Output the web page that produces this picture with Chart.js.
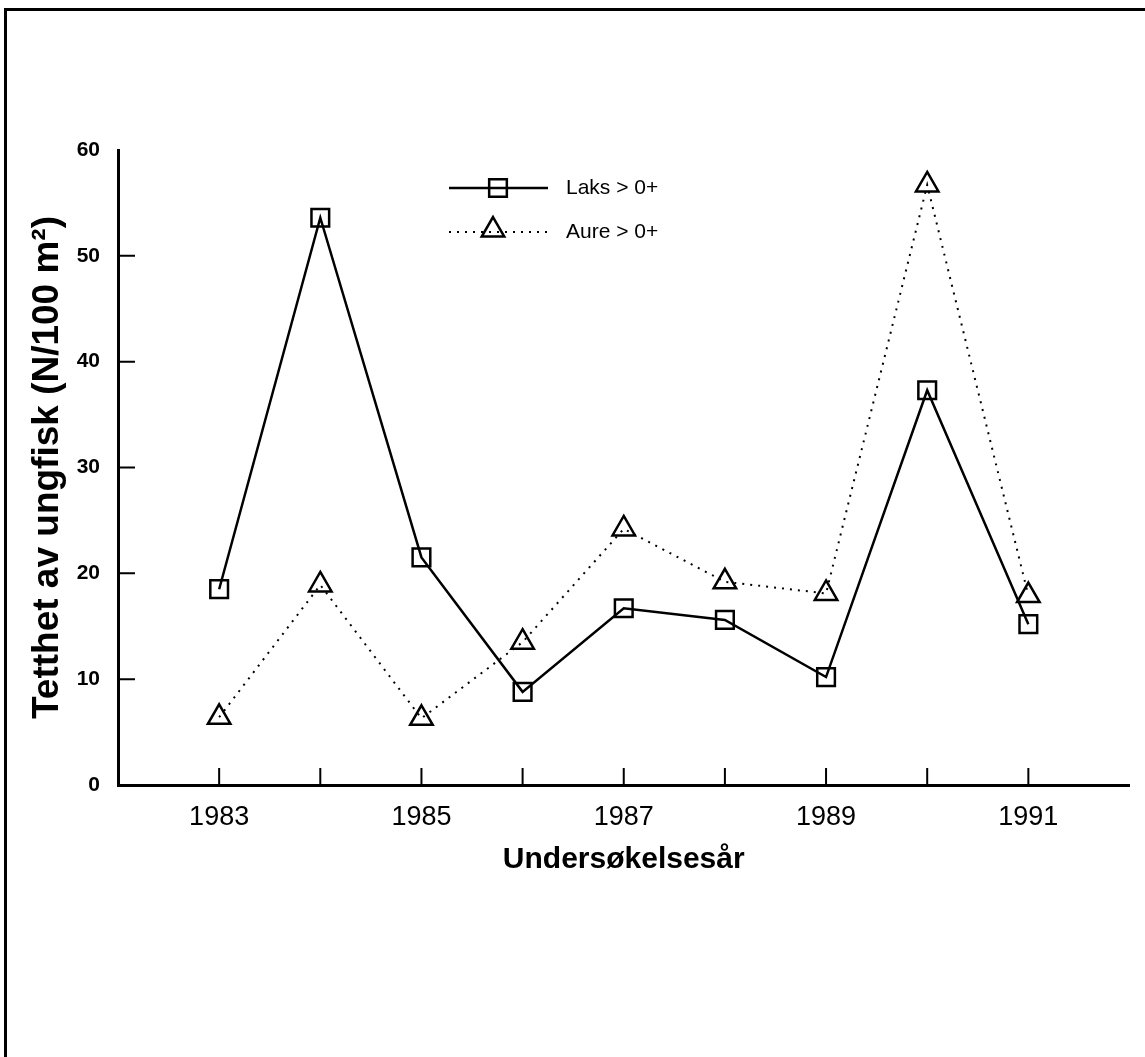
<!DOCTYPE html>
<html>
<head>
<meta charset="utf-8">
<script src="https://cdn.jsdelivr.net/npm/chart.js@4/dist/chart.umd.min.js"></script>
<style>
  body { margin: 0; background: #fff; }
  #wrap { position: relative; width: 1145px; height: 1057px; }
  #frame { position: absolute; left: 4px; top: 8px; width: 1141px; height: 1049px;
           border-top: 3px solid #000; border-left: 3px solid #000; box-sizing: border-box; }
  canvas { position: absolute; left: 0; top: 0; }
</style>
</head>
<body>
<div id="wrap">
  <div id="frame"></div>
  <canvas id="chart" width="1145" height="1057"></canvas>
</div>
<script>
const years = [1983, 1984, 1985, 1986, 1987, 1988, 1989, 1990, 1991];
const laks = [18.5, 53.6, 21.5, 8.8, 16.7, 15.6, 10.2, 37.3, 15.2];
const aure = [6.4, 18.9, 6.3, 13.5, 24.2, 19.2, 18.1, 56.7, 17.9];
const yTicks = [0, 10, 20, 30, 40, 50, 60];
const seriesNames = ['Laks > 0+', 'Aure > 0+'];

Chart.defaults.color = '#000';
Chart.defaults.font.family = '"Liberation Sans", Arial, sans-serif';

// tick marks point into the plot, drawn from the scales
const innerTicks = {
  id: 'innerTicks',
  afterDraw(chart) {
    const { ctx, chartArea, scales } = chart;
    ctx.save();
    ctx.strokeStyle = '#000';
    ctx.lineWidth = 2;
    ctx.beginPath();
    years.forEach(v => {
      const px = scales.x.getPixelForValue(v);
      ctx.moveTo(px, chartArea.bottom);
      ctx.lineTo(px, chartArea.bottom - 17);
    });
    yTicks.slice(1, -1).forEach(v => {
      const py = scales.y.getPixelForValue(v);
      ctx.moveTo(chartArea.left, py);
      ctx.lineTo(chartArea.left + 17, py);
    });
    ctx.stroke();
    ctx.restore();
  }
};

// legend with a line sample and the marker in the middle
const lineLegend = {
  id: 'lineLegend',
  afterDraw(chart) {
    const { ctx } = chart;
    ctx.save();
    chart.data.datasets.forEach((ds, i) => {
      const y = 188 + i * 44;
      ctx.strokeStyle = '#000';
      ctx.lineWidth = ds.borderWidth;
      ctx.setLineDash(ds.borderDash || []);
      ctx.beginPath();
      ctx.moveTo(449, y);
      ctx.lineTo(548, y);
      ctx.stroke();
      ctx.setLineDash([]);
      ctx.lineWidth = ds.pointBorderWidth;
      ctx.fillStyle = 'rgba(0,0,0,0)';
      Chart.helpers.drawPoint(ctx, {
        pointStyle: ds.pointStyle, radius: ds.pointRadius, borderWidth: ds.pointBorderWidth
      }, i === 0 ? 498 : 493, i === 0 ? y : y - 2);
      ctx.fillStyle = '#000';
      ctx.font = '21px "Liberation Sans", Arial, sans-serif';
      ctx.textBaseline = 'middle';
      ctx.fillText(ds.label, 566, y);
    });
    ctx.restore();
  }
};

new Chart(document.getElementById('chart'), {
  type: 'line',
  data: {
    datasets: [
      {
        label: seriesNames[0],
        data: years.map((x, i) => ({ x, y: laks[i] })),
        borderColor: '#000',
        borderWidth: 2.5,
        pointStyle: 'rect',
        pointRadius: 12.5,
        pointBorderWidth: 2.5,
        pointBorderColor: '#000',
        pointBackgroundColor: 'rgba(0,0,0,0)',
        tension: 0,
      },
      {
        label: seriesNames[1],
        data: years.map((x, i) => ({ x, y: aure[i] })),
        borderColor: '#000',
        borderWidth: 2,
        borderDash: [2, 6],
        pointStyle: 'triangle',
        pointRadius: 13,
        pointBorderWidth: 2.5,
        pointBorderColor: '#000',
        pointBackgroundColor: 'rgba(0,0,0,0)',
        tension: 0,
      },
    ],
  },
  options: {
    responsive: false,
    animation: false,
    layout: { padding: { left: 20, right: 15, top: 150, bottom: 172 } },
    plugins: {
      legend: { display: false },
      tooltip: { enabled: false },
    },
    scales: {
      x: {
        type: 'linear',
        min: 1982,
        max: 1992,
        afterBuildTicks: s => { s.ticks = years.map(v => ({ value: v })); },
        afterFit: s => { s.height = 100; },
        grid: { display: false, drawTicks: false },
        border: { display: true, width: 3, color: '#000' },
        ticks: {
          padding: 16,
          maxRotation: 0,
          autoSkip: false,
          font: { size: 27 },
          callback: v => (v % 2 === 1 ? String(v) : ''),
        },
        title: {
          display: true,
          text: 'Undersøkelsesår',
          font: { size: 30, weight: 'bold' },
          padding: { top: 0, bottom: 7 },
        },
      },
      y: {
        min: 0,
        max: 60,
        afterBuildTicks: s => { s.ticks = yTicks.map(v => ({ value: v })); },
        afterFit: s => { s.width = 98; },
        grid: { display: false, drawTicks: false },
        border: { display: true, width: 3, color: '#000' },
        ticks: { padding: 18, font: { size: 21, weight: 'bold' } },
        title: {
          display: true,
          text: 'Tetthet av ungfisk (N/100 m²)',
          font: { size: 37, weight: 'bold' },
          padding: { top: 6 },
        },
      },
    },
  },
  plugins: [innerTicks, lineLegend],
});
</script>
</body>
</html>
